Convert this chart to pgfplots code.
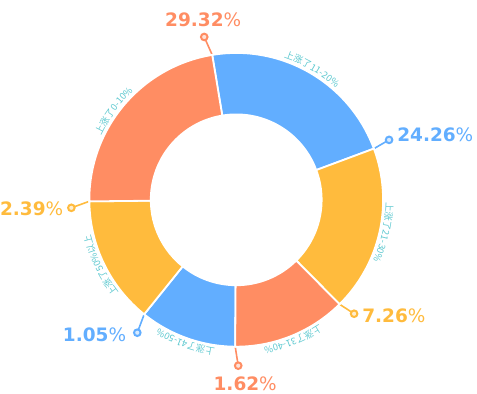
\documentclass[border=0pt]{standalone}
\usepackage{pgfplots}
\pgfplotsset{compat=1.18}
\usepackage{pgfplotstable}
\usepackage{fontspec}
\usetikzlibrary{decorations.text}
\newfontfamily\cjk{Noto Sans CJK SC}
\newfontfamily\pct{DejaVu Sans}
\definecolor{cblue}{HTML}{62AEFF}
\definecolor{corange}{HTML}{FF8D63}
\definecolor{cyellow}{HTML}{FFBB3D}
\definecolor{clabel}{HTML}{5DC8CF}

% segments: centre (x,y), start angle a, end angle b (clockwise)
\pgfplotstableread{
x   y   a       b
236 194 99.4    20.4
236 194 -90.4   -128.8
}\segblue
\pgfplotstableread{
x   y   a       b
236 194 20.4    -45.3
236 194 -128.8  -179.4
}\segyellow
\pgfplotstableread{
x   y   a       b
236 194 -45.3   -90.4
236 194 -179.4  -260.6
}\segorange

\newcommand{\pctlabel}[1]{\pct\fontsize{18.5}{18.5}\selectfont\bfseries #1{\mdseries\%}}
\newcommand{\arclabel}[3]{%
  \path[decorate, decoration={text along path, text align=center, text color=clabel,
    text={|\cjk\fontsize{9.3}{9.3}\selectfont|#1}}]
    (axis cs:236,194) ++(#2:150pt) arc[start angle=#2, end angle=#3, radius=150pt];}

\pgfplotsset{ring/.style={
  scatter, only marks, mark=text, text mark={},
  point meta=y,
  visualization depends on={\thisrow{a}\as\angA},
  visualization depends on={\thisrow{b}\as\angB},
  scatter/@pre marker code/.code={%
    \filldraw[fill=#1, draw=white, line width=1.8pt]
      (\angA:147pt) arc[start angle=\angA, end angle=\angB, radius=147pt]
      -- (\angB:85.5pt) arc[start angle=\angB, end angle=\angA, radius=85.5pt] -- cycle;
  },
  scatter/@post marker code/.code={},
},
leader/.style={#1, line width=1.6pt, mark=*, mark indices={2}, mark size=3.3pt,
  mark options={fill=#1!25!white, draw=#1, line width=2pt}}}

\begin{document}
\begin{tikzpicture}
\begin{axis}[
  hide axis, scale only axis,
  width=477pt, height=394pt,
  xmin=0, xmax=477, ymin=0, ymax=394,
  clip=false,
]
\path (axis cs:0,0) rectangle (axis cs:477,394);

\addplot[ring=cblue] table[x=x, y=y] {\segblue};
\addplot[ring=cyellow] table[x=x, y=y] {\segyellow};
\addplot[ring=corange] table[x=x, y=y] {\segorange};

% leader lines with dots
\addplot[leader=corange] coordinates {(212.0,339.0) (204,357)};
\addplot[leader=cblue] coordinates {(373.8,245.2) (389,254)};
\addplot[leader=cyellow] coordinates {(339.4,89.5) (354,80)};
\addplot[leader=corange] coordinates {(235.0,47.0) (238,28)};
\addplot[leader=cblue] coordinates {(143.9,79.4) (137,61)};
\addplot[leader=cyellow] coordinates {(89.0,192.5) (71,186)};

% value labels
\node[text=corange, anchor=center, inner sep=0pt] at (axis cs:203,374) {\pctlabel{29.32}};
\node[text=cblue, anchor=west, inner sep=0pt] at (axis cs:397,259) {\pctlabel{24.26}};
\node[text=cyellow, anchor=west, inner sep=0pt] at (axis cs:362,78) {\pctlabel{7.26}};
\node[text=corange, anchor=center, inner sep=0pt] at (axis cs:245,10) {\pctlabel{1.62}};
\node[text=cblue, anchor=east, inner sep=0pt] at (axis cs:126,59) {\pctlabel{1.05}};
\node[text=cyellow, anchor=east, inner sep=0pt] at (axis cs:63,185) {\pctlabel{2.39}};

% curved category labels
\arclabel{上涨了11-20{\%}}{99.4}{20.4}
\arclabel{上涨了21-30{\%}}{20.4}{-45.3}
\arclabel{上涨了31-40{\%}}{-45.3}{-90.4}
\arclabel{上涨了41-50{\%}}{-90.4}{-128.8}
\arclabel{上涨了50{\%}以上}{-128.8}{-179.4}
\arclabel{上涨了0-10{\%}}{-171.4}{-260.6}
\end{axis}
\end{tikzpicture}
\end{document}
